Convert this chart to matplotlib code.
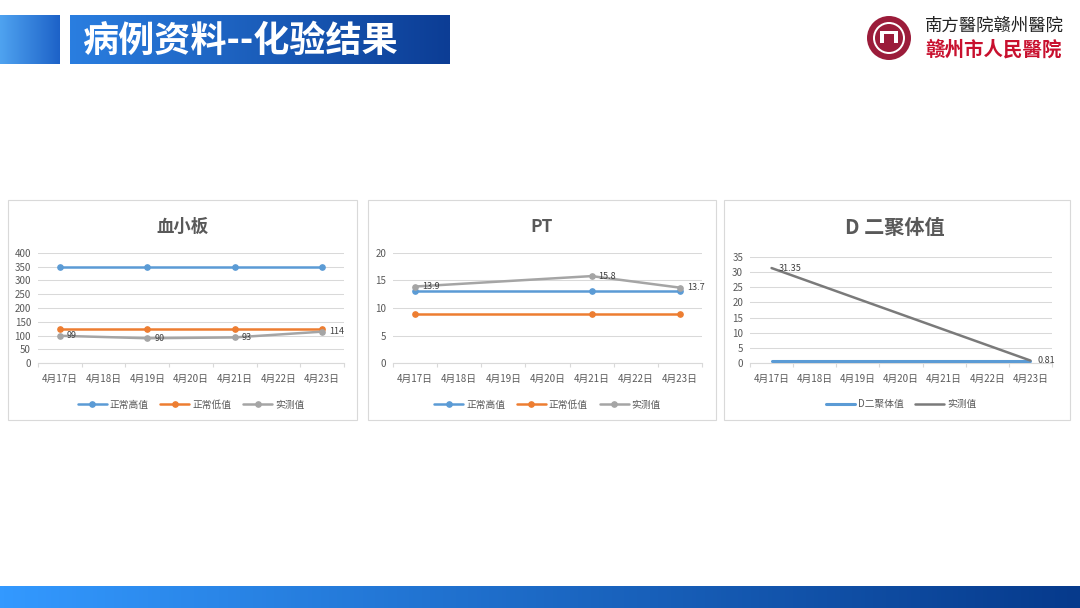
import numpy as np
import matplotlib
matplotlib.use('Agg')
import matplotlib.pyplot as plt
from matplotlib.patches import Rectangle, Circle
from matplotlib.colors import LinearSegmentedColormap

plt.rcParams['font.family'] = ['Noto Sans CJK SC', 'DejaVu Sans']

W, H = 1080, 608

# 数据
dates = ['4月17日', '4月18日', '4月19日', '4月20日', '4月21日', '4月22日', '4月23日']

plt_idx = [0, 2, 4, 6]
plt_high = [350, 350, 350, 350]
plt_low = [125, 125, 125, 125]
plt_meas = [99, 90, 93, 114]

pt_idx = [0, 4, 6]
pt_high = [13, 13, 13]
pt_low = [9, 9, 9]
pt_meas = [13.9, 15.8, 13.7]

dd_idx = [0, 6]
dd_norm = [0.5, 0.5]
dd_meas = [31.35, 0.81]

BLUE, ORANGE, GRAY, DGRAY = '#5b9bd5', '#ed7d31', '#a5a5a5', '#7a7a7a'
TXT = '#595959'


def px_axes(fig, left, top, right, bottom, **kw):
    return fig.add_axes([left / W, 1 - bottom / H, (right - left) / W, (bottom - top) / H], **kw)


def gradient(ax, x0, x1, y0, y1, c0, c1):
    cmap = LinearSegmentedColormap.from_list('g', [c0, c1])
    ax.imshow(np.linspace(0, 1, 256).reshape(1, -1), cmap=cmap, aspect='auto',
              extent=(x0, x1, y1, y0), zorder=1)


def draw_panel(fig, bg, box, plot, title, tsize, tpos, ylim, yticks, series, legend_y):
    x0, y0, x1, y1 = box
    bg.add_patch(Rectangle((x0, y0), x1 - x0, y1 - y0, facecolor='white',
                           edgecolor='#d9d9d9', lw=0.8, zorder=2))
    fig.text(tpos[0] / W, 1 - tpos[1] / H, title, ha='center', va='center',
             fontsize=tsize, fontweight='bold', color=TXT)
    ax = px_axes(fig, *plot)
    ax.set_facecolor('none')
    for idx, vals, label, color, marker, lw, show in series:
        ax.plot(idx, vals, color=color, lw=lw, marker=marker, ms=3.8, label=label,
                solid_capstyle='round', zorder=3)
        if show:
            for xi, v in zip(idx, vals):
                ax.annotate(f'{v:g}', (xi, v), xytext=(5, 0), textcoords='offset points',
                            va='center', ha='left', fontsize=6.5, color='#404040', zorder=4)
    ax.set_xlim(-0.5, 6.5)
    ax.set_ylim(*ylim)
    ax.set_yticks(yticks)
    ax.set_xticks(range(len(dates)))
    ax.set_xticklabels(dates)
    ax.set_xticks(np.arange(-0.5, 7, 1), minor=True)
    ax.tick_params(axis='x', which='major', length=0, pad=8, labelsize=7, labelcolor=TXT)
    ax.tick_params(axis='x', which='minor', length=3, color='#d9d9d9', width=0.8)
    ax.tick_params(axis='y', length=0, pad=5, labelsize=7, labelcolor=TXT)
    ax.grid(axis='y', color='#d9d9d9', lw=0.75)
    ax.set_axisbelow(True)
    for s in ['left', 'right', 'top']:
        ax.spines[s].set_visible(False)
    ax.spines['bottom'].set_color('#d9d9d9')
    ax.legend(loc='center', bbox_to_anchor=(0.5, legend_y), ncol=len(series), frameon=False,
              fontsize=7, labelcolor=TXT, handlelength=3, columnspacing=1.2, handletextpad=0.3)
    return ax


fig = plt.figure(figsize=(W / 100, H / 100), dpi=100)
bg = fig.add_axes([0, 0, 1, 1])
bg.axis('off')

# 标题栏
gradient(bg, 0, 60, 15, 64, '#4fa3f0', '#1d62c8')
gradient(bg, 70, 450, 15, 64, '#2a7ee0', '#0c3d95')
gradient(bg, 0, W, 586, H, '#3399ff', '#063a8c')
fig.text(82 / W, 1 - 41 / H, '病例资料--化验结果', ha='left', va='center',
         fontsize=26, fontweight='bold', color='white')

# 医院标志
bg.add_patch(Circle((889, 38), 22, facecolor='#9b1c3a', edgecolor='none', zorder=2))
bg.add_patch(Circle((889, 38), 16, facecolor='white', edgecolor='none', zorder=3))
bg.add_patch(Circle((889, 38), 14, facecolor='#9b1c3a', edgecolor='none', zorder=3))
bg.add_patch(Rectangle((880, 31), 18, 12, facecolor='white', edgecolor='none', zorder=4))
bg.add_patch(Rectangle((884, 34), 10, 9, facecolor='#9b1c3a', edgecolor='none', zorder=5))
fig.text(994 / W, 1 - 26 / H, '南方醫院赣州醫院', ha='center', va='center',
         fontsize=12.5, color='#222222')
fig.text(994 / W, 1 - 50 / H, '赣州市人民醫院', ha='center', va='center',
         fontsize=14, fontweight='bold', color='#c8102e')

# 血小板
draw_panel(fig, bg, (8, 200, 357, 420), (38, 253, 344, 363), '血小板', 12.5, (182, 227),
           (0, 400), range(0, 401, 50),
           [(plt_idx, plt_high, '正常高值', BLUE, 'o', 1.8, False),
            (plt_idx, plt_low, '正常低值', ORANGE, 'o', 1.8, False),
            (plt_idx, plt_meas, '实测值', GRAY, 'o', 1.8, True)], -0.38)

# PT
draw_panel(fig, bg, (368, 200, 716, 420), (393, 253, 702, 363), 'PT', 12.5, (542, 227),
           (0, 20), range(0, 21, 5),
           [(pt_idx, pt_high, '正常高值', BLUE, 'o', 1.8, False),
            (pt_idx, pt_low, '正常低值', ORANGE, 'o', 1.8, False),
            (pt_idx, pt_meas, '实测值', GRAY, 'o', 1.8, True)], -0.38)

# D 二聚体值
draw_panel(fig, bg, (724, 200, 1070, 420), (750, 257, 1052, 363), 'D 二聚体值', 14.5, (895, 228),
           (0, 35), range(0, 36, 5),
           [(dd_idx, dd_norm, 'D二聚体值', BLUE, None, 2.2, False),
            (dd_idx, dd_meas, '实测值', DGRAY, None, 1.8, True)], -0.387)

bg.set_xlim(0, W)
bg.set_ylim(H, 0)

fig.savefig('out.png', dpi=100)
